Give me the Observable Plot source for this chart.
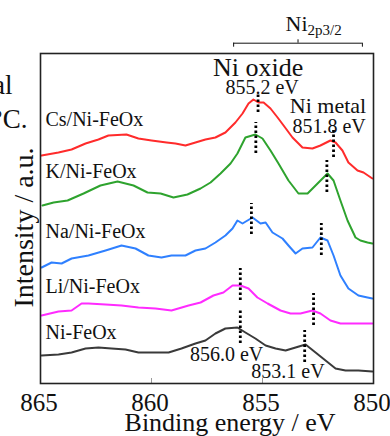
<!DOCTYPE html>
<html><head><meta charset="utf-8">
<script src="https://cdn.jsdelivr.net/npm/d3@7"></script>
<script src="https://cdn.jsdelivr.net/npm/@observablehq/plot@0.6"></script>
<style>html,body{margin:0;padding:0;background:#fff;overflow:hidden}</style>
</head><body><div id="chart"></div>
<script>
const samples = ["Cs/Ni-FeOx","K/Ni-FeOx","Na/Ni-FeOx","Li/Ni-FeOx","Ni-FeOx"];
const xTicks = [865, 860, 855, 850];

const csE = [864.95,864.19,863.6,862.97,862.39,861.94,861.13,860.59,860.0,859.32,858.92,858.47,858.02,857.57,857.12,856.67,856.22,855.9,855.63,855.41,855.18,854.95,854.64,854.32,854.05,853.65,853.2,852.75,852.39,851.94,851.71,851.4,851.13,850.72,850.45,850.05];
const csI = [228,231,234,240,244,248,249,245,243,241,240,238,241,244,246,251,261,270,280,284,281,281,275,266,258,246,236,235,238,243,241,233,221,213,211,205];

const kE = [864.91,864.41,863.78,863.06,862.3,861.53,860.81,860.18,859.59,859.01,858.38,857.79,857.34,856.89,856.44,856.13,855.77,855.32,855.0,854.64,854.28,853.83,853.38,852.97,852.52,852.07,851.8,851.49,851.17,850.81,850.59,850.27,850.05];
const kI = [178,181,183,190,198,202,198,191,190,186,189,195,201,210,220,230,246,249,245,233,220,203,190,190,200,210,203,183,163,146,143,141,140];

const naE = [864.95,864.5,864.05,863.6,862.84,862.07,861.35,860.72,860.14,859.55,859.1,858.47,858.02,857.57,857.12,856.67,856.35,856.13,855.9,855.45,855.09,854.86,854.55,854.1,853.83,853.51,853.2,852.75,852.39,852.07,851.8,851.49,851.13,850.68,850.27,850.05];
const naI = [116,121,120,125,128,133,138,135,128,126,128,128,133,135,141,148,155,163,160,166,160,161,151,145,138,130,135,136,146,143,128,108,95,88,86,85];

const liE = [864.95,864.19,863.6,863.15,862.84,862.07,861.35,860.59,859.82,859.1,858.33,857.79,857.21,856.76,856.35,855.99,855.63,855.23,854.77,854.19,853.74,853.29,852.75,852.39,851.94,851.49,851.04,850.59,850.05];
const liI = [68,72,73,80,80,79,78,76,75,73,78,81,88,91,98,98,95,86,80,73,70,70,73,70,63,60,60,60,60];

const niE = [864.95,864.19,863.6,862.97,862.39,861.8,861.17,860.59,860.0,859.23,858.65,858.02,857.57,857.12,856.67,856.13,855.77,855.32,854.86,854.41,853.96,853.51,853.06,852.61,852.16,851.71,851.26,850.68,850.05];
const niI = [28,29,31,35,36,35,34,31,31,31,35,40,43,50,55,56,51,45,38,35,33,36,39,31,23,15,13,13,12];

// peak marker positions (binding energy) and their vertical extent (intensity units)
const markE  = [855.2, 851.8, 855.3, 852.1, 855.5, 852.35, 856.0, 852.7, 856.0, 853.1];
const markLo = [271, 226, 230, 191, 149, 128, 83, 58, 40, 21];
const markHi = [290, 253, 261, 223, 180, 160, 115, 90, 73, 53];

const mk = (E, I, s) => E.map((e, i) => ({E: e, I: I[i], s}));
const data = [
  ...mk(csE, csI, samples[0]), ...mk(kE, kI, samples[1]), ...mk(naE, naI, samples[2]),
  ...mk(liE, liI, samples[3]), ...mk(niE, niI, samples[4])
];
const markers = markE.map((e, i) => ({E: e, lo: markLo[i], hi: markHi[i]}));
const colors = ["#ff2b2b", "#2ea32e", "#2f80ff", "#ff2bff", "#3a3a3a"];
const serif = "'Liberation Serif','Times New Roman',serif";

const lab = (t, E, I, opts = {}) =>
  Plot.text([{t, E, I}], {x: "E", y: "I", text: "t", lineAnchor: "bottom", fill: "#111", ...opts});

const plot = Plot.plot({
  width: 390, height: 436,
  marginLeft: 40, marginRight: 17, marginTop: 53, marginBottom: 53,
  x: {domain: [865, 850], axis: null},
  y: {domain: [0, 330], axis: null},
  color: {domain: samples, range: colors},
  style: {fontFamily: serif, background: "#fff", overflow: "visible"},
  marks: [
    Plot.ruleX(xTicks, {x: d => d, y1: 0, y2: 5, stroke: "#9a9a9a", strokeWidth: 1}),
    Plot.line(data, {x: "E", y: "I", z: "s", stroke: "s", strokeWidth: 2}),
    Plot.ruleX(markers, {x: "E", y1: "lo", y2: "hi", stroke: "#000", strokeWidth: 2.8, strokeDasharray: "2.6,2.4"}),
    Plot.frame({stroke: "#222", strokeWidth: 1.6}),
    Plot.text(xTicks, {x: d => d, y: 0, dx: -1.5, dy: 27, text: d => String(d), lineAnchor: "bottom", fontSize: 25, fill: "#111"}),
    // sample labels
    lab(samples[0], 865, 258, {textAnchor: "start", dx: 5, fontSize: 20}),
    lab(samples[1], 865, 206, {textAnchor: "start", dx: 5, fontSize: 20}),
    lab(samples[2], 865, 146, {textAnchor: "start", dx: 5, fontSize: 20}),
    lab(samples[3], 865, 91, {textAnchor: "start", dx: 5, fontSize: 20}),
    lab(samples[4], 865, 45, {textAnchor: "start", dx: 5, fontSize: 20}),
    // peak annotations
    lab("Ni oxide", 855.2, 308, {fontSize: 26}),
    lab("855.2 eV", 855.02, 290, {fontSize: 20}),
    lab("Ni metal", 852.05, 271, {fontSize: 22}),
    lab("851.8 eV", 852.0, 251, {fontSize: 20}),
    lab("856.0 eV", 856.62, 23, {fontSize: 20}),
    lab("853.1 eV", 853.85, 6, {fontSize: 20}),
    // Ni 2p3/2 bracket
    Plot.ruleY([{y: 340.3}], {y: "y", x1: 856.3, x2: 850.5, stroke: "#111", strokeWidth: 1}),
    Plot.ruleX([856.3, 850.5], {x: d => d, y1: 336.3, y2: 340.3, stroke: "#111", strokeWidth: 1}),
    Plot.ruleX([853.4], {x: d => d, y1: 340.3, y2: 343.7, stroke: "#111", strokeWidth: 1}),
    lab("Ni", 852.97, 353, {textAnchor: "end", fontSize: 22}),
    lab("2p3/2", 852.97, 349, {textAnchor: "start", fontSize: 15}),
    // axis titles
    lab("Binding energy / eV", 856.46, -47, {fontSize: 26}),
    lab("Intensity / a.u.", 865.36, 156, {rotate: -90, fontSize: 28}),
    // cropped text from neighbouring panel
    lab("al", 866.26, 290, {textAnchor: "end", fontSize: 27}),
    lab("°C.", 865.59, 256, {textAnchor: "end", fontSize: 27})
  ]
});
document.getElementById("chart").appendChild(plot);
</script>
</body></html>
